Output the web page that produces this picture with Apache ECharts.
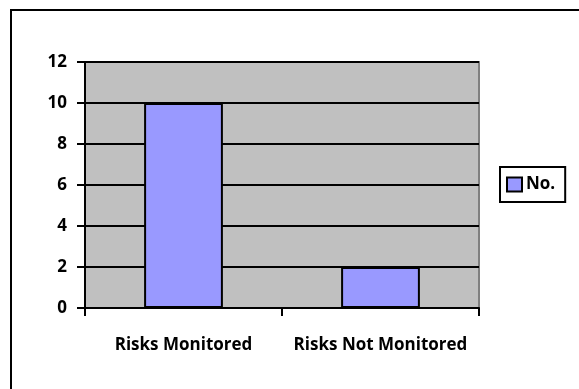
<!DOCTYPE html>
<html>
<head>
<meta charset="utf-8">
<script src="https://cdn.jsdelivr.net/npm/echarts@6/dist/echarts.min.js"></script>
<style>
  html, body { margin: 0; padding: 0; background: #fff; }
  #chart { width: 579px; height: 389px; }
</style>
</head>
<body>
<div id="chart"></div>
<script>
// Monitoring status of identified risks
const categories = ['Risks Monitored', 'Risks Not Monitored'];
const seriesName = 'No.';
const counts = [10, 2];

const FONT = '"Open Sans", "DejaVu Sans", sans-serif';

const chart = echarts.init(document.getElementById('chart'), null, { renderer: 'canvas' });

chart.setOption({
  animation: false,
  backgroundColor: '#ffffff',
  graphic: [
    { type: 'line', shape: { x1: 11, y1: 10, x2: 579, y2: 10 }, style: { stroke: '#000', lineWidth: 2 } },
    { type: 'line', shape: { x1: 11, y1: 9, x2: 11, y2: 389 }, style: { stroke: '#000', lineWidth: 2 } }
  ],
  grid: {
    left: 85, top: 62, right: 100, bottom: 81,
    show: true,
    backgroundColor: '#C0C0C0',
    borderColor: '#808080',
    borderWidth: 2
  },
  legend: {
    data: [seriesName],
    left: 500, top: 167,
    orient: 'vertical',
    backgroundColor: '#fff',
    borderColor: '#000',
    borderWidth: 2,
    borderRadius: 0,
    padding: [9, 10, 9, 6],
    itemWidth: 15, itemHeight: 14, itemGap: 0,
    icon: 'rect',
    textStyle: { fontFamily: FONT, fontWeight: 'bold', fontSize: 17, color: '#000', padding: [0, 0, 0, -1] }
  },
  xAxis: {
    type: 'category',
    data: categories,
    boundaryGap: true,
    axisLine: { show: true, lineStyle: { color: '#000', width: 2 } },
    axisTick: { show: true, interval: 0, alignWithLabel: false, length: 8, lineStyle: { color: '#000', width: 2 } },
    axisLabel: { interval: 0, hideOverlap: false, margin: 29, fontFamily: FONT, fontWeight: 'bold', fontSize: 17, color: '#000' },
    splitLine: { show: false }
  },
  yAxis: {
    type: 'value',
    min: 0, max: 12, interval: 2,
    axisLine: { show: true, lineStyle: { color: '#000', width: 2 } },
    axisTick: { show: true, inside: false, length: 8, lineStyle: { color: '#000', width: 2 } },
    axisLabel: { margin: 18, fontFamily: FONT, fontWeight: 'bold', fontSize: 17, color: '#000' },
    splitLine: { show: true, lineStyle: { color: '#000', width: 2 } }
  },
  series: [{
    name: seriesName,
    type: 'bar',
    data: counts,
    barWidth: '40%',
    itemStyle: { color: '#9999FF', borderColor: '#000', borderWidth: 2 }
  }]
});
</script>
</body>
</html>
